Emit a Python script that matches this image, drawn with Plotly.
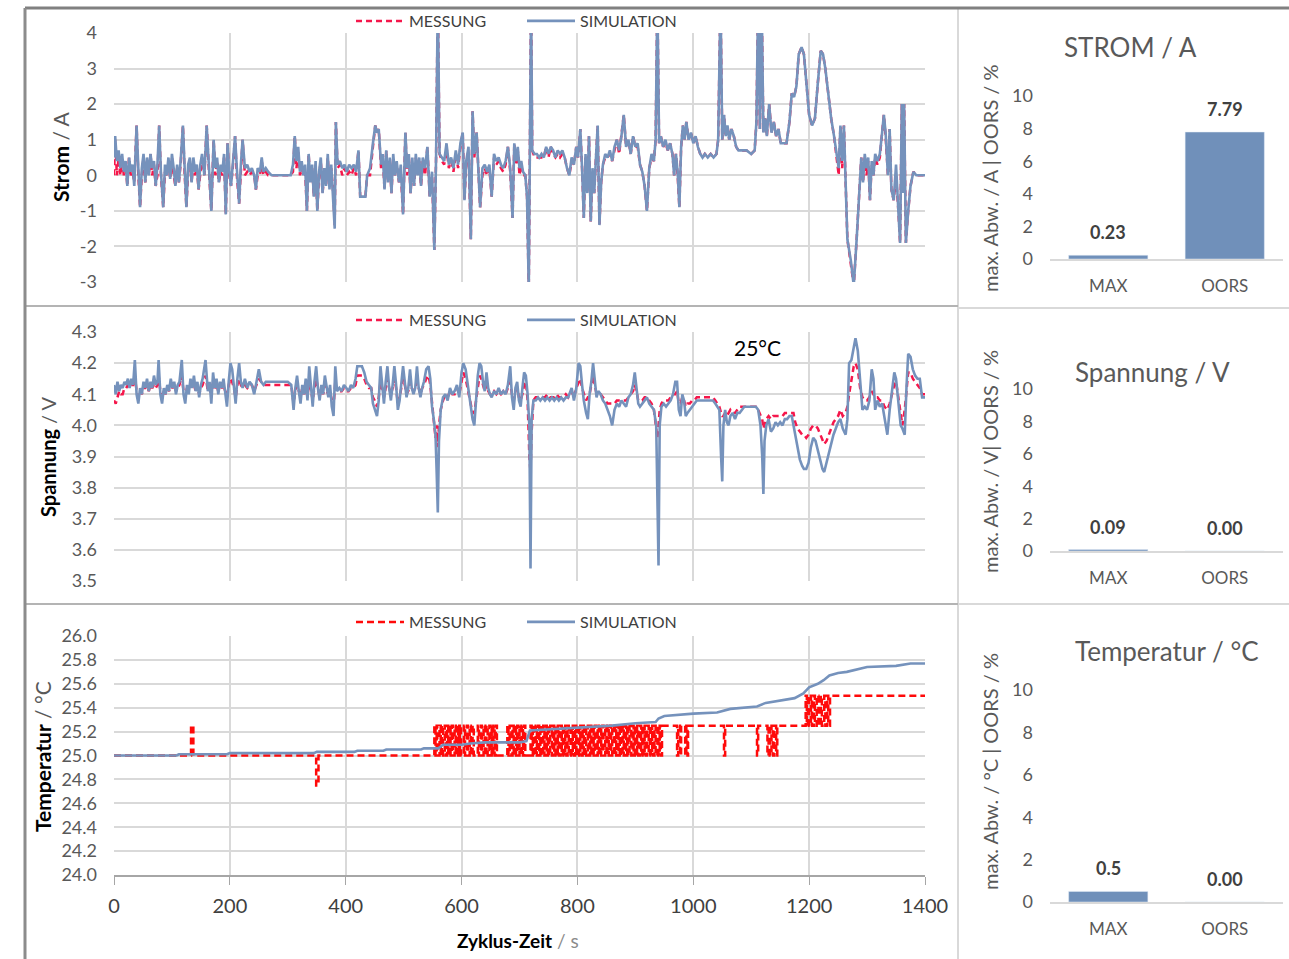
import plotly.graph_objects as go

# ---------------- DATA ----------------
# Strom / A  (time in s)
t_I = [0,2,5,8,11,14,17,20,23,26,
       29,32,35,39,42,45,48,51,54,57,
       60,63,66,69,72,75,78,81,85,88,
       91,94,97,100,103,106,109,112,115,119,
       122,125,128,131,134,137,140,143,146,149,
       152,156,160,164,168,172,175,178,181,184,
       187,190,193,196,199,202,205,209,212,216,
       219,222,226,230,234,238,242,245,248,252,
       255,258,262,266,272,305,309,312,315,318,
       321,324,327,330,333,336,339,342,345,348,
       351,354,357,360,363,366,369,372,375,378,
       381,383,386,390,394,398,402,406,410,414,
       418,422,425,430,434,437,442,447,451,454,
       457,461,464,467,470,473,476,479,482,485,
       488,492,495,499,503,506,509,512,515,518,
       521,524,527,530,533,537,541,545,549,553,
       556,559,562,566,570,574,578,582,586,590,
       594,598,602,605,608,612,616,619,622,626,
       629,632,636,640,644,648,652,656,660,664,
       668,672,676,680,684,688,691,694,697,700,
       703,706,710,713,716,718,720,722,726,730,
       734,738,742,746,750,754,758,762,766,770,
       774,778,782,786,790,794,798,801,805,808,
       811,814,817,820,823,826,829,832,835,838,
       841,844,848,852,856,860,864,868,872,876,
       880,884,888,892,896,900,904,908,912,916,
       920,924,928,932,935,938,941,944,948,952,
       956,960,964,967,970,973,976,979,982,985,
       988,992,996,1000,1004,1008,1012,1016,1020,1025,
       1030,1035,1040,1043,1047,1050,1053,1056,1059,1062,
       1066,1070,1074,1078,1085,1092,1100,1106,1109,1112,
       1115,1118,1121,1124,1127,1131,1135,1139,1143,1147,
       1151,1156,1161,1166,1170,1174,1178,1182,1187,1191,
       1195,1200,1205,1210,1215,1220,1224,1228,1233,1238,
       1243,1248,1251,1254,1257,1260,1263,1266,1272,1277,
       1282,1286,1290,1293,1296,1299,1302,1305,1308,1311,
       1314,1318,1322,1326,1329,1332,1336,1339,1342,1346,
       1350,1354,1357,1360,1362,1364,1367,1371,1375,1380,
       1385,1400]
I_sim = [0.5,1.1,0.4,0.7,0.2,0.6,0.1,0.4,-0.3,0.5,
         0.1,0.3,-0.3,1.4,0.2,-0.9,0.2,0.6,-0.2,0.5,
         0.0,0.6,0.2,0.4,-0.3,0.3,1.4,0.1,-0.9,0.3,
         0.0,0.5,-0.1,0.6,0.2,-0.3,0.3,-0.2,0.4,1.4,
         0.2,-0.9,0.3,0.5,-0.2,0.5,0.1,0.3,-0.4,0.3,
         0.6,0.0,1.4,0.3,-1.0,1.0,0.2,0.5,-0.2,0.3,
         0.1,0.6,-1.1,0.9,0.1,-0.3,0.4,1.1,0.2,-0.8,
         0.3,1.0,0.2,0.3,0.1,0.2,0.0,-0.4,0.2,0.1,
         0.5,0.1,0.2,0.1,0.0,0.0,0.3,1.1,0.4,0.8,
         0.1,0.4,0.0,0.3,-1.0,0.6,-0.2,0.3,-0.6,0.4,
         -1.0,0.1,0.5,-0.5,0.2,-0.3,0.6,-0.4,0.3,-0.6,
         -1.5,1.5,0.3,0.4,0.2,0.3,0.1,0.3,0.2,0.3,
         0.1,0.7,-0.6,-0.6,-0.6,0.0,0.2,0.9,1.4,1.2,
         1.3,0.3,0.6,-0.4,0.7,-0.2,0.5,-0.5,0.6,0.0,
         0.4,-0.2,0.3,-1.1,1.2,0.2,0.6,-0.5,0.5,-0.3,
         0.6,0.0,0.5,-0.3,0.5,0.2,0.8,-0.6,0.1,-2.1,
         0.5,5.0,0.6,0.5,0.4,0.9,0.3,0.5,0.2,0.7,
         0.3,0.9,1.2,-0.7,0.4,0.8,-1.8,1.8,0.6,1.2,
         0.3,-0.9,0.2,0.3,0.1,0.3,-0.6,0.6,0.4,0.5,
         0.3,0.2,0.4,0.8,0.2,-1.2,0.9,0.4,0.8,0.2,
         0.4,0.1,0.0,-0.6,-3.2,0.5,5.0,0.7,0.6,0.6,
         0.5,0.6,0.5,0.8,0.6,0.8,0.7,0.5,0.7,0.6,
         0.7,0.5,0.2,0.0,0.5,0.3,0.8,0.5,1.3,0.2,
         -1.2,0.6,-0.5,1.1,-1.3,0.2,-0.5,0.5,1.4,-1.4,
         -0.2,0.3,0.6,0.5,0.7,0.4,0.8,1.0,0.7,1.1,
         1.7,0.8,1.0,0.6,1.1,0.8,0.9,0.3,0.1,-0.3,
         -1.0,0.2,0.6,0.4,1.0,5.0,0.9,1.1,0.8,1.0,
         0.7,0.9,0.6,0.0,0.6,0.1,-0.9,0.8,1.4,1.0,
         1.5,1.0,1.2,0.9,1.1,0.8,0.6,0.5,0.6,0.5,
         0.6,0.5,0.6,1.0,5.0,1.0,1.7,1.1,1.4,1.0,
         1.3,1.1,0.8,0.7,0.7,0.7,0.6,0.7,1.5,5.0,
         1.3,5.0,1.2,1.6,1.1,2.0,1.2,1.5,1.1,1.3,
         0.9,0.9,0.9,1.5,2.3,2.2,2.5,3.4,3.6,3.4,
         2.7,1.7,1.4,1.6,2.6,3.5,3.4,3.0,2.3,1.6,
         1.1,0.5,0.2,1.4,0.4,1.4,0.0,-1.8,-2.4,-3.1,
         -1.8,-0.6,0.5,-0.2,0.6,0.2,0.5,-0.7,0.4,0.0,
         0.6,0.4,0.6,1.2,1.7,1.2,0.0,1.3,-0.4,-0.7,
         0.3,-1.0,-1.9,2.0,-0.5,2.0,-1.9,-1.0,-0.3,0.1,
         0.0,0.0]
I_mess = [0.0,1.0,0.0,0.5,0.0,0.4,0.0,0.3,-0.3,0.5,
          0.0,0.1,-0.2,1.4,0.0,-0.9,0.0,0.5,-0.2,0.4,
          0.0,0.6,0.0,0.3,-0.3,0.0,1.4,0.0,-0.9,0.1,
          0.0,0.4,-0.1,0.5,0.0,-0.3,0.2,-0.2,0.3,1.4,
          0.0,-0.9,0.1,0.4,-0.2,0.4,0.0,0.2,-0.4,0.1,
          0.5,0.0,1.4,0.1,-1.0,1.0,0.0,0.4,-0.2,0.1,
          0.0,0.5,-1.1,0.9,0.0,-0.3,0.2,1.1,0.0,-0.8,
          0.1,1.0,0.0,0.1,0.0,0.1,0.0,-0.4,0.0,0.0,
          0.4,0.0,0.1,0.0,0.0,0.0,0.1,1.1,0.2,0.7,
          0.0,0.2,0.0,0.1,-1.0,0.6,-0.2,0.2,-0.6,0.3,
          -1.0,0.0,0.4,-0.5,0.0,-0.3,0.5,-0.3,0.2,-0.4,
          -1.4,1.5,0.2,0.3,0.0,0.2,0.0,0.1,0.0,0.2,
          0.0,0.7,-0.6,-0.6,-0.6,0.0,0.0,0.8,1.4,1.2,
          1.3,0.2,0.5,-0.4,0.7,-0.2,0.4,-0.5,0.5,0.0,
          0.3,-0.2,0.1,-1.1,1.2,0.0,0.5,-0.5,0.4,-0.3,
          0.5,0.0,0.4,-0.3,0.4,0.0,0.8,-0.6,0.0,-2.1,
          0.5,5.0,0.6,0.4,0.3,0.8,0.2,0.4,0.1,0.6,
          0.2,0.8,1.2,-0.7,0.3,0.7,-1.8,1.8,0.5,1.2,
          0.2,-0.9,0.0,0.2,0.0,0.2,-0.6,0.5,0.3,0.4,
          0.2,0.1,0.3,0.8,0.1,-1.2,0.9,0.3,0.7,0.0,
          0.3,0.0,0.0,-0.6,-3.2,0.5,5.0,0.7,0.5,0.5,
          0.5,0.5,0.5,0.8,0.5,0.8,0.6,0.5,0.6,0.5,
          0.6,0.5,0.2,0.0,0.4,0.3,0.8,0.5,1.3,0.2,
          -1.2,0.5,-0.5,1.1,-1.3,0.1,-0.5,0.5,1.4,-1.4,
          -0.2,0.3,0.5,0.5,0.6,0.4,0.7,1.0,0.6,1.1,
          1.7,0.8,1.0,0.6,1.1,0.8,0.8,0.3,0.1,-0.3,
          -1.0,0.2,0.5,0.4,1.0,5.0,0.9,1.1,0.8,0.9,
          0.7,0.9,0.6,0.0,0.6,0.0,-0.9,0.8,1.4,1.0,
          1.5,1.0,1.2,0.9,1.1,0.8,0.6,0.5,0.6,0.5,
          0.6,0.5,0.6,1.0,5.0,1.0,1.7,1.1,1.4,1.0,
          1.3,1.1,0.8,0.7,0.7,0.7,0.6,0.7,1.5,5.0,
          1.3,5.0,1.2,1.6,1.1,2.0,1.2,1.5,1.1,1.3,
          0.9,0.9,0.9,1.5,2.3,2.2,2.5,3.4,3.6,3.4,
          2.7,1.7,1.4,1.6,2.6,3.5,3.4,3.0,2.3,1.6,
          1.1,0.5,0.0,1.4,0.2,1.4,0.0,-1.8,-2.5,-3.1,
          -1.8,-0.6,0.5,-0.2,0.5,0.0,0.4,-0.7,0.3,0.0,
          0.5,0.3,0.5,1.2,1.7,1.1,0.0,1.3,-0.4,-0.7,
          0.0,-1.0,-1.9,2.0,-0.5,2.0,-1.9,-1.0,-0.3,0.1,
          0.0,0.0]

# Spannung / V
t_U = [0,3,6,9,12,15,18,21,24,27,
       30,33,36,39,42,45,48,51,54,57,
       60,63,66,69,72,75,77,80,83,86,
       89,92,95,98,101,104,107,110,113,117,
       120,123,126,129,132,135,138,141,144,147,
       150,153,158,162,165,168,171,174,177,180,
       183,186,189,192,195,198,201,204,207,210,
       213,216,219,222,226,230,234,238,242,246,
       250,254,258,262,266,300,306,310,313,316,
       319,322,325,328,331,334,337,340,343,346,
       349,352,355,358,361,364,367,370,373,376,
       379,382,385,389,393,397,401,405,409,413,
       417,420,424,428,432,436,440,444,447,450,
       454,457,460,463,466,469,472,475,478,481,
       484,487,490,493,496,499,502,505,508,511,
       514,517,520,523,526,529,532,535,539,543,
       546,549,552,555,557,559,561,564,568,572,
       576,580,584,588,592,596,600,603,607,611,
       615,619,622,625,628,631,634,637,640,643,
       646,649,652,656,660,664,668,672,676,680,
       684,687,690,693,696,699,702,705,708,711,
       714,717,719,721,724,728,732,736,740,744,
       748,752,756,760,764,768,772,776,780,784,
       790,794,798,802,805,808,811,815,818,821,
       824,827,830,833,836,840,844,848,852,856,
       860,864,868,872,876,880,884,888,892,896,
       899,902,905,908,912,916,920,924,928,932,
       936,938,940,942,945,949,953,957,961,965,
       969,972,975,978,981,984,987,990,994,998,
       1002,1006,1010,1014,1018,1022,1026,1030,1034,1038,
       1042,1045,1048,1050,1052,1055,1058,1061,1064,1068,
       1072,1076,1080,1084,1088,1092,1096,1100,1104,1108,
       1112,1116,1119,1121,1123,1126,1130,1134,1138,1142,
       1146,1150,1154,1158,1162,1166,1170,1173,1176,1180,
       1184,1188,1191,1195,1199,1203,1207,1211,1215,1219,
       1223,1226,1230,1234,1238,1242,1246,1250,1254,1258,
       1263,1266,1269,1273,1277,1280,1284,1288,1292,1296,
       1300,1304,1308,1311,1314,1318,1322,1326,1330,1335,
       1339,1343,1347,1350,1354,1358,1361,1365,1368,1371,
       1375,1379,1383,1387,1391,1395,1400]
U_sim = [4.13,4.10,4.14,4.11,4.13,4.12,4.14,4.13,4.15,4.12,
         4.15,4.13,4.21,4.10,4.07,4.12,4.10,4.14,4.12,4.15,
         4.11,4.14,4.12,4.16,4.13,4.14,4.21,4.10,4.07,4.12,
         4.10,4.13,4.11,4.15,4.12,4.14,4.10,4.13,4.14,4.21,
         4.10,4.07,4.13,4.10,4.15,4.12,4.16,4.11,4.14,4.09,
         4.13,4.15,4.21,4.11,4.14,4.07,4.17,4.12,4.15,4.10,
         4.14,4.12,4.15,4.10,4.06,4.14,4.20,4.18,4.12,4.07,
         4.15,4.20,4.14,4.12,4.15,4.12,4.14,4.13,4.10,4.14,
         4.18,4.14,4.13,4.14,4.14,4.14,4.13,4.05,4.12,4.16,
         4.11,4.07,4.13,4.10,4.15,4.08,4.19,4.12,4.06,4.14,
         4.19,4.12,4.08,4.13,4.10,4.16,4.12,4.09,4.13,4.06,
         4.03,4.19,4.11,4.12,4.11,4.13,4.12,4.11,4.13,4.12,
         4.15,4.19,4.19,4.19,4.17,4.14,4.13,4.12,4.07,4.05,
         4.03,4.08,4.19,4.13,4.07,4.14,4.19,4.12,4.08,4.13,
         4.19,4.13,4.05,4.08,4.14,4.19,4.14,4.09,4.12,4.18,
         4.12,4.10,4.12,4.19,4.12,4.09,4.12,4.14,4.18,4.19,
         4.15,4.06,4.02,3.97,3.85,3.72,3.95,4.05,4.09,4.10,
         4.08,4.12,4.10,4.11,4.13,4.09,4.17,4.20,4.18,4.13,
         4.08,4.02,4.00,4.08,4.16,4.20,4.19,4.14,4.11,4.17,
         4.12,4.10,4.09,4.11,4.10,4.12,4.10,4.11,4.10,4.13,
         4.19,4.09,4.05,4.12,4.14,4.08,4.06,4.12,4.17,4.16,
         4.10,4.00,3.54,4.02,4.08,4.08,4.09,4.08,4.09,4.08,
         4.09,4.08,4.09,4.08,4.09,4.08,4.09,4.08,4.09,4.09,
         4.12,4.08,4.12,4.20,4.19,4.13,4.08,4.04,4.02,4.10,
         4.14,4.20,4.14,4.09,4.11,4.10,4.08,4.07,4.05,4.03,
         4.00,4.05,4.07,4.06,4.08,4.07,4.06,4.09,4.10,4.13,
         4.17,4.12,4.07,4.06,4.07,4.08,4.09,4.07,4.06,4.05,
         4.00,3.70,3.55,4.00,4.06,4.07,4.06,4.07,4.08,4.10,
         4.14,4.14,4.05,4.03,4.10,4.08,4.03,4.04,4.05,4.06,
         4.07,4.08,4.08,4.08,4.08,4.08,4.08,4.08,4.08,4.07,
         4.06,4.05,3.90,3.82,4.00,4.05,4.01,4.00,4.03,4.04,
         4.02,4.04,4.04,4.05,4.06,4.06,4.06,4.06,4.06,4.06,
         4.05,4.00,3.90,3.78,3.95,4.00,4.02,3.98,3.99,4.01,
         4.00,4.01,4.00,4.02,4.02,4.03,4.03,4.00,3.97,3.92,
         3.89,3.87,3.86,3.86,3.88,3.93,3.96,3.95,3.92,3.89,
         3.86,3.85,3.88,3.91,3.94,3.97,3.99,4.01,4.02,3.99,
         3.97,4.02,4.20,4.21,4.25,4.28,4.24,4.14,4.05,4.06,
         4.05,4.08,4.18,4.15,4.05,4.08,4.06,4.07,4.03,3.97,
         4.05,4.12,4.17,4.15,4.07,4.00,3.99,3.97,4.12,4.23,
         4.22,4.18,4.16,4.15,4.15,4.09,4.09]
U_mess = [4.08,4.07,4.09,4.11,4.10,4.10,4.12,4.12,4.13,4.12,
          4.13,4.13,4.16,4.11,4.09,4.11,4.10,4.12,4.12,4.13,
          4.11,4.13,4.12,4.13,4.12,4.13,4.16,4.11,4.09,4.11,
          4.10,4.12,4.11,4.13,4.12,4.13,4.11,4.12,4.13,4.16,
          4.11,4.09,4.12,4.11,4.13,4.12,4.13,4.11,4.13,4.10,
          4.12,4.13,4.16,4.11,4.12,4.09,4.14,4.12,4.13,4.11,
          4.13,4.12,4.13,4.11,4.09,4.13,4.15,4.14,4.12,4.09,
          4.13,4.15,4.13,4.12,4.13,4.12,4.13,4.13,4.11,4.13,
          4.15,4.14,4.13,4.13,4.13,4.13,4.13,4.07,4.11,4.13,
          4.11,4.09,4.12,4.10,4.13,4.09,4.15,4.12,4.08,4.12,
          4.15,4.12,4.09,4.12,4.10,4.13,4.11,4.10,4.11,4.08,
          4.06,4.14,4.11,4.11,4.11,4.12,4.11,4.11,4.12,4.12,
          4.13,4.16,4.16,4.16,4.15,4.13,4.12,4.12,4.09,4.08,
          4.06,4.09,4.14,4.12,4.09,4.12,4.15,4.12,4.10,4.12,
          4.15,4.12,4.07,4.09,4.12,4.15,4.13,4.10,4.11,4.14,
          4.12,4.11,4.12,4.14,4.12,4.10,4.12,4.13,4.15,4.16,
          4.13,4.07,4.00,3.96,4.00,3.93,4.00,4.05,4.08,4.10,
          4.09,4.11,4.10,4.10,4.12,4.10,4.14,4.17,4.15,4.11,
          4.07,4.04,4.04,4.08,4.13,4.16,4.15,4.13,4.11,4.13,
          4.11,4.10,4.10,4.11,4.10,4.11,4.10,4.11,4.10,4.12,
          4.14,4.10,4.08,4.11,4.12,4.09,4.08,4.10,4.13,4.14,
          4.08,3.90,3.85,3.98,4.08,4.09,4.09,4.09,4.09,4.09,
          4.10,4.09,4.09,4.09,4.10,4.09,4.09,4.09,4.10,4.09,
          4.11,4.09,4.12,4.14,4.15,4.12,4.10,4.08,4.09,4.10,
          4.13,4.16,4.13,4.10,4.10,4.10,4.09,4.08,4.07,4.07,
          4.07,4.07,4.08,4.08,4.08,4.08,4.08,4.09,4.10,4.11,
          4.13,4.11,4.08,4.08,4.08,4.09,4.09,4.08,4.07,4.05,
          3.98,3.96,4.00,4.05,4.07,4.08,4.08,4.08,4.09,4.10,
          4.10,4.11,4.07,4.07,4.09,4.08,4.06,4.07,4.07,4.08,
          4.08,4.09,4.09,4.09,4.09,4.09,4.09,4.09,4.09,4.08,
          4.07,4.06,4.04,4.03,4.03,4.04,4.03,4.04,4.05,4.04,
          4.04,4.05,4.06,4.06,4.06,4.06,4.06,4.06,4.06,4.06,
          4.05,4.03,4.02,3.99,4.00,4.02,4.03,4.02,4.03,4.03,
          4.03,4.03,4.03,4.04,4.04,4.04,4.04,4.04,4.01,3.99,
          3.98,3.97,3.97,3.96,3.97,3.99,4.00,4.00,3.99,3.97,
          3.95,3.94,3.95,3.97,3.99,4.01,4.02,4.03,4.05,4.03,
          4.04,4.06,4.10,4.15,4.19,4.20,4.18,4.12,4.09,4.08,
          4.08,4.09,4.11,4.10,4.09,4.09,4.08,4.08,4.06,4.05,
          4.07,4.10,4.13,4.14,4.09,4.04,4.00,4.05,4.12,4.17,
          4.17,4.15,4.14,4.13,4.12,4.10,4.10]

# Temperatur / °C
t_Ts = [0,108,112,195,200,345,350,415,420,465,
        470,530,535,560,568,600,615,640,700,712,
        718,760,800,860,900,935,940,950,1000,1041,
        1064,1110,1125,1150,1175,1190,1200,1215,1225,1235,
        1250,1265,1285,1300,1350,1375,1400]
T_sim = [25.00,25.00,25.01,25.01,25.02,25.02,25.03,25.03,25.04,25.04,
         25.05,25.05,25.06,25.06,25.09,25.09,25.10,25.11,25.11,25.12,
         25.21,25.22,25.23,25.25,25.27,25.28,25.31,25.33,25.35,25.36,
         25.39,25.41,25.44,25.46,25.48,25.52,25.57,25.60,25.63,25.67,
         25.69,25.70,25.72,25.74,25.75,25.77,25.77]
t_Tm = [0,133,137,349,353,
        553,555,557,558,
        562,564,566,568,571,573,575,577,579,581,583,585,588,590,592,594,596,597,598,599,
        604,606,609,611,614,616,619,621,
        628,630,633,635,638,640,643,645,648,650,652,653,
        655,657,659,661,
        679,681,683,686,688,690,692,694,696,698,700,702,704,706,708,710,
        719,721,723,725,728,730,732,734,736,738,741,743,745,747,749,751,753,756,758,760,
        762,764,766,768,771,773,775,777,779,781,783,785,788,790,792,794,796,798,800,803,
        805,807,809,811,813,815,818,820,822,824,826,828,830,833,835,837,839,841,843,845,
        848,850,852,854,856,858,860,863,865,867,869,871,873,875,878,880,882,884,886,888,
        890,893,895,897,899,901,903,905,908,910,912,914,916,918,920,923,925,927,929,931,
        933,935,938,940,942,944,946,948,
        972,974,977,979,986,988,990,991,
        1053,1055,1110,1112,
        1128,1130,1133,1135,1138,1140,1143,1145,
        1194,1196,1198,1200,1203,1205,1208,1210,1213,1216,1220,1222,1226,1228,1231,1233,1236,
        1400]
T_mess = [25.0,25.25,25.0,24.75,25.0,
          25.25,25.0,25.25,25.0,
          25.25,25.0,25.25,25.0,25.25,25.0,25.25,25.0,25.25,25.0,25.25,25.0,25.25,25.0,25.25,25.0,25.25,25.0,25.25,25.0,
          25.25,25.0,25.25,25.0,25.25,25.0,25.25,25.0,
          25.25,25.0,25.25,25.0,25.25,25.0,25.25,25.0,25.25,25.0,25.25,25.0,
          25.25,25.0,25.25,25.0,
          25.25,25.0,25.25,25.0,25.25,25.0,25.25,25.0,25.25,25.0,25.25,25.0,25.25,25.0,25.25,25.0,
          25.25,25.0,25.25,25.0,25.25,25.0,25.25,25.0,25.25,25.0,25.25,25.0,25.25,25.0,25.25,25.0,25.25,25.0,25.25,25.0,
          25.25,25.0,25.25,25.0,25.25,25.0,25.25,25.0,25.25,25.0,25.25,25.0,25.25,25.0,25.25,25.0,25.25,25.0,25.25,25.0,
          25.25,25.0,25.25,25.0,25.25,25.0,25.25,25.0,25.25,25.0,25.25,25.0,25.25,25.0,25.25,25.0,25.25,25.0,25.25,25.0,
          25.25,25.0,25.25,25.0,25.25,25.0,25.25,25.0,25.25,25.0,25.25,25.0,25.25,25.0,25.25,25.0,25.25,25.0,25.25,25.0,
          25.25,25.0,25.25,25.0,25.25,25.0,25.25,25.0,25.25,25.0,25.25,25.0,25.25,25.0,25.25,25.0,25.25,25.0,25.25,25.0,
          25.25,25.0,25.25,25.0,25.25,25.0,25.25,25.25,
          25.0,25.25,25.0,25.25,25.0,25.25,25.0,25.25,
          25.0,25.25,25.0,25.25,
          25.0,25.25,25.0,25.25,25.0,25.25,25.0,25.25,
          25.5,25.25,25.5,25.25,25.5,25.25,25.5,25.25,25.5,25.25,25.5,25.25,25.5,25.25,25.5,25.25,25.5,
          25.5]

# Bar charts (max. Abw. | OORS)
bar_cats = ["MAX", "OORS"]
strom_bars = [0.23, 7.79]
strom_labels = ["0.23", "7.79"]
spannung_bars = [0.09, 0.0]
spannung_labels = ["0.09", "0.00"]
temp_bars = [0.5, 0.0]
temp_labels = ["0.5", "0.00"]

series_names = ["MESSUNG", "SIMULATION"]
x_ticks = [0, 200, 400, 600, 800, 1000, 1200, 1400]
strom_ticks = [-3, -2, -1, 0, 1, 2, 3, 4]
strom_ticktext = ["-3", "-2", "-1", "0", "1", "2", "3", "4"]

# ---------------- STYLE ----------------
W, H = 1289, 959
FONT = "Lato"
RED = "#F5174B"
RED_T = "#FF0A0A"
BLUE = "#7592BC"
BAR = "#7090BA"
GRID = "#D9D9D9"
TICK = "#595959"


def px(x):
    return x / W


def py(y):
    return 1 - y / H


fig = go.Figure()

line_sets = [
    (t_I, I_mess, t_I, I_sim, "x", "y", "legend", RED, "linear", "6px,4px"),
    (t_U, U_mess, t_U, U_sim, "x2", "y2", "legend2", RED, "linear", "6px,4px"),
    (t_Tm, T_mess, t_Ts, T_sim, "x3", "y3", "legend3", RED_T, "hv", "7px,4px"),
]
for tm, vm, ts, vs, xa, ya, lg, rc, shape, dsh in line_sets:
    fig.add_trace(go.Scatter(x=tm, y=vm, mode="lines", name=series_names[0],
                             line=dict(color=rc, width=2.5, dash=dsh, shape=shape),
                             xaxis=xa, yaxis=ya, legend=lg))
    fig.add_trace(go.Scatter(x=ts, y=vs, mode="lines", name=series_names[1],
                             line=dict(color=BLUE, width=2.6),
                             xaxis=xa, yaxis=ya, legend=lg))

bar_sets = [
    (strom_bars, "x4", "y4"),
    (spannung_bars, "x5", "y5"),
    (temp_bars, "x6", "y6"),
]
for vals, xa, ya in bar_sets:
    fig.add_trace(go.Bar(x=bar_cats, y=vals, marker_color=BAR, width=0.68,
                         xaxis=xa, yaxis=ya, showlegend=False))

# Line chart axes
XL, XR = 114, 925
line_y = [(33, 282, [-3, 4], 1, "d"), (332, 581, [3.5, 4.3], 0.1, ".1f"), (636, 875, [24, 26], 0.2, ".1f")]
layout_axes = {}
for i, (top, bot, rng, dt, fmt) in enumerate(line_y, start=1):
    sx = "" if i == 1 else str(i)
    xa = dict(domain=[px(XL), px(XR)], anchor="y" + sx, range=[0, 1400], tickvals=x_ticks,
              showgrid=True, gridcolor=GRID, gridwidth=2, zeroline=False, automargin=False,
              showticklabels=False, ticks="")
    if i == 3:
        xa.update(showticklabels=True, ticks="outside", ticklen=8, tickcolor="#A6A6A6",
                  showline=True, linecolor="#A6A6A6", linewidth=1.5,
                  tickfont=dict(family=FONT, size=20, color="#404040"), ticklabelstandoff=4)
    ya = dict(domain=[py(bot), py(top)], anchor="x" + sx, range=rng, dtick=dt, tick0=rng[0],
              tickformat=fmt, showgrid=True, gridcolor=GRID, gridwidth=2, zeroline=False,
              automargin=False,
              tickfont=dict(family=FONT, size=18, color=TICK), ticklabelstandoff=16)
    if i == 1:
        ya.update(tickvals=strom_ticks, ticktext=strom_ticktext)
    layout_axes["xaxis" + sx] = xa
    layout_axes["yaxis" + sx] = ya

# Bar chart axes
bar_y = [(96, 259), (389, 551), (690, 902)]
for j, (top, bot) in enumerate(bar_y, start=4):
    sx = str(j)
    layout_axes["xaxis" + sx] = dict(domain=[px(1050), px(1283)], anchor="y" + sx, type="category",
                                     range=[-0.5, 1.5], showline=True, linecolor=GRID, linewidth=2,
                                     showgrid=False, ticks="", automargin=False,
                                     tickfont=dict(family=FONT, size=17, color=TICK),
                                     ticklabelstandoff=11)
    layout_axes["yaxis" + sx] = dict(domain=[py(bot), py(top)], anchor="x" + sx, range=[0, 10], dtick=2,
                                     showgrid=False, zeroline=False, showline=False, automargin=False,
                                     tickfont=dict(family=FONT, size=18, color=TICK), ticklabelstandoff=16)

annotations = []
# bar value labels
for vals, labels, xa, ya in [(strom_bars, strom_labels, "x4", "y4"),
                             (spannung_bars, spannung_labels, "x5", "y5"),
                             (temp_bars, temp_labels, "x6", "y6")]:
    for c, v, lab in zip(bar_cats, vals, labels):
        annotations.append(dict(x=c, y=v, xref=xa, yref=ya, text="<b>" + lab + "</b>", showarrow=False,
                                yanchor="middle", yshift=23, font=dict(family=FONT, size=18, color="#404040")))

# bar chart titles
for txt, cx, cy in [("STROM / A", 1130, 47), ("Spannung / V", 1152, 372), ("Temperatur / °C", 1167, 651)]:
    annotations.append(dict(x=px(cx), y=py(cy), xref="paper", yref="paper", text=txt, showarrow=False,
                            xanchor="center", yanchor="middle", font=dict(family=FONT, size=26, color=TICK)))
# bar chart y titles
for txt, cy in [("max. Abw. / A | OORS / %", 178), ("max. Abw. / V| OORS / %", 462), ("max. Abw. / °C | OORS / %", 772)]:
    annotations.append(dict(x=px(990), y=py(cy), xref="paper", yref="paper", text=txt, showarrow=False,
                            textangle=-90, xanchor="center", yanchor="middle",
                            font=dict(family=FONT, size=20, color=TICK)))
# line chart y titles
for bold, unit, cx, cy, fs in [("Strom", "A", 60, 157, 21), ("Spannung", "V", 48, 457, 20),
                               ("Temperatur", "°C", 42, 757, 21)]:
    annotations.append(dict(x=px(cx), y=py(cy), xref="paper", yref="paper",
                            text="<b>" + bold + "</b> <span style='color:#595959'>/ " + unit + "</span>",
                            showarrow=False, textangle=-90, xanchor="center", yanchor="middle",
                            font=dict(family=FONT, size=fs, color="#000000")))
# x title
annotations.append(dict(x=px(518), y=py(940), xref="paper", yref="paper",
                        text="<b>Zyklus-Zeit</b> <span style='color:#8c8c8c'>/ s</span>", showarrow=False,
                        xanchor="center", yanchor="middle", font=dict(family=FONT, size=19, color="#000000")))
# 25°C label
annotations.append(dict(x=px(757), y=py(347), xref="paper", yref="paper", text="25°C", showarrow=False,
                        xanchor="center", yanchor="middle", font=dict(family=FONT, size=21, color="#000000")))

# frame / separator lines
shapes = [
    dict(type="line", xref="paper", yref="paper", x0=px(958), x1=px(958), y0=py(8), y1=0,
         line=dict(color="#D9D9D9", width=2)),
    dict(type="line", xref="paper", yref="paper", x0=px(25), x1=px(958), y0=py(306), y1=py(306),
         line=dict(color="#B4B4B4", width=2)),
    dict(type="line", xref="paper", yref="paper", x0=px(25), x1=px(958), y0=py(604), y1=py(604),
         line=dict(color="#B4B4B4", width=2)),
    dict(type="line", xref="paper", yref="paper", x0=px(958), x1=1, y0=py(308), y1=py(308),
         line=dict(color="#D9D9D9", width=2)),
    dict(type="line", xref="paper", yref="paper", x0=px(958), x1=1, y0=py(604), y1=py(604),
         line=dict(color="#D9D9D9", width=2)),
    dict(type="line", xref="paper", yref="paper", x0=px(25), x1=1, y0=py(8), y1=py(8),
         line=dict(color="#808080", width=3)),
    dict(type="line", xref="paper", yref="paper", x0=px(25), x1=px(25), y0=py(8), y1=0,
         line=dict(color="#8C8C8C", width=3)),
]

legend_common = dict(orientation="h", xanchor="left", yanchor="middle", bgcolor="rgba(0,0,0,0)",
                     font=dict(family=FONT, size=16, color="#404040"), itemwidth=48,
                     entrywidth=108, entrywidthmode="pixels", borderwidth=0)

fig.update_layout(
    width=W, height=H, autosize=False, margin=dict(l=0, r=0, t=0, b=0, autoexpand=False),
    paper_bgcolor="white", plot_bgcolor="white",
    font=dict(family=FONT),
    showlegend=True,
    legend=dict(x=px(351), y=py(21), **legend_common),
    legend2=dict(x=px(351), y=py(320), **legend_common),
    legend3=dict(x=px(351), y=py(622), **legend_common),
    annotations=annotations,
    shapes=shapes,
    bargap=0.3,
    **layout_axes,
)

fig.write_html("out.html",
               config={"responsive": False, "displayModeBar": False},
               post_script="document.body.style.margin='0';document.body.style.overflow='hidden';")
